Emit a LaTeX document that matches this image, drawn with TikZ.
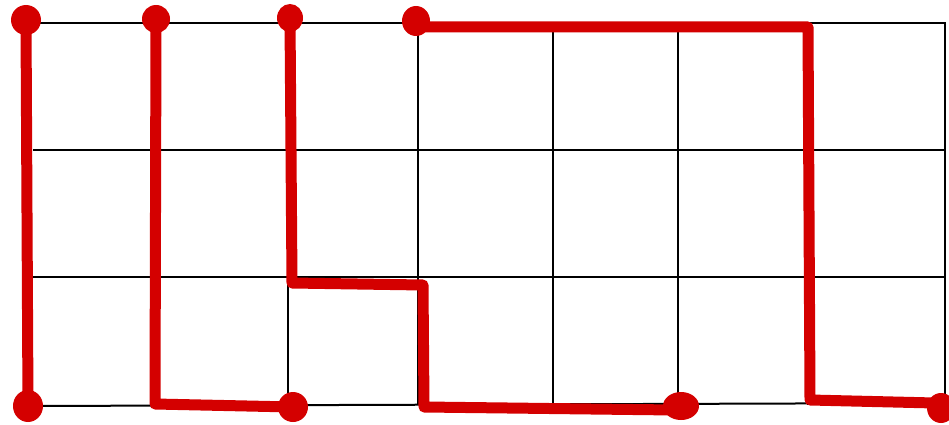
\documentclass[tikz,border=0pt]{standalone}
\definecolor{penred}{RGB}{212,0,0}
\begin{document}
\begin{tikzpicture}[x=1pt,y=-1pt,
  gridline/.style={black,line width=2pt},
  pen/.style={penred,line width=11pt,line join=round,line cap=round},
  blob/.style={fill=penred,draw=none}]
\useasboundingbox (0,0) rectangle (949,425);
% grid
\foreach \yy in {23,150,277}{\draw[gridline] (33,\yy) -- (946,\yy);}
\draw[gridline] (33,406) -- (946,403);
\foreach \xx in {155,288,418,553,678,808,945}{\draw[gridline] (\xx,23) -- (\xx,405);}
% red strokes
\coordinate (t1) at (26,20);
\coordinate (t2) at (156,19);
\coordinate (t3) at (290,18);
\coordinate (t4) at (416,21);
\coordinate (b1) at (28,406);
\coordinate (b2) at (293,407);
\coordinate (b3) at (681,406);
\coordinate (b4) at (941,408);
\draw[pen] (t1) -- (b1);
\draw[pen] (t2) -- (155,404) -- (b2);
\draw[pen] (t3) -- (292,283) -- (423,285) -- (424,407) -- (675,410);
\draw[pen] (t4) -- (416,27) -- (808,27) -- (810,400) -- (935,403);
\fill[blob] (t1) ellipse [x radius=15, y radius=15];
\fill[blob] (t2) ellipse [x radius=14, y radius=14];
\fill[blob] (t3) ellipse [x radius=13, y radius=14];
\fill[blob] (t4) ellipse [x radius=14, y radius=15];
\fill[blob] (b1) ellipse [x radius=15, y radius=16];
\fill[blob] (b2) ellipse [x radius=15, y radius=15];
\fill[blob] (b3) ellipse [x radius=18, y radius=14];
\fill[blob] (b4) ellipse [x radius=14, y radius=15];
\end{tikzpicture}
\end{document}
